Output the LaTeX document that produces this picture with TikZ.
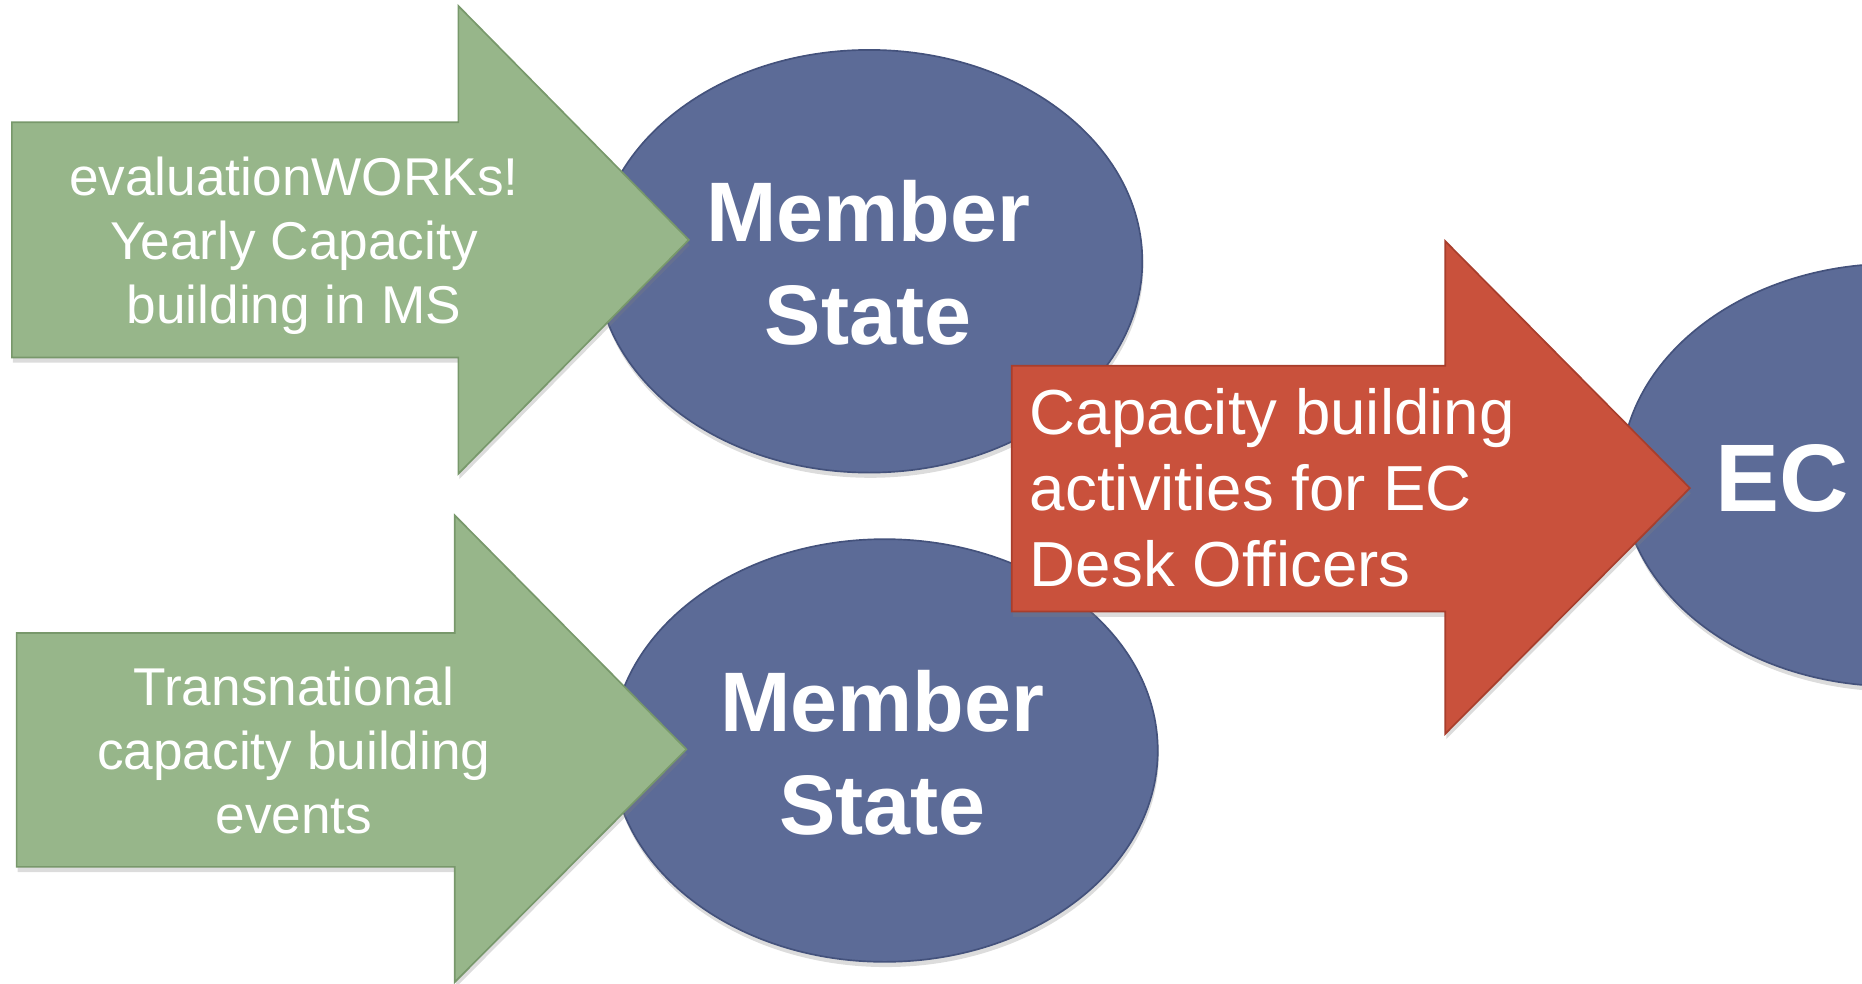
\documentclass[tikz,border=0pt]{standalone}
\usepackage{fontspec}
\setmainfont{Liberation Sans}
\usetikzlibrary{shapes.geometric,shadows}
\definecolor{grn}{RGB}{151,182,138}
\definecolor{grnedge}{RGB}{120,152,107}
\definecolor{blu}{RGB}{92,107,151}
\definecolor{bluedge}{RGB}{68,82,124}
\definecolor{rd}{RGB}{201,81,60}
\definecolor{rdedge}{RGB}{168,62,44}
\begin{document}
\begin{tikzpicture}[x=0.02cm,y=-0.02cm,
  shade/.style={drop shadow={opacity=0.28, shadow xshift=0.5pt, shadow yshift=-2.5pt}},
  bubble/.style={ellipse, fill=blu, draw=bluedge, line width=0.8pt,
    minimum width=9.2cm, minimum height=7.12cm, inner sep=0pt, shade},
  garrow/.style={fill=grn, draw=grnedge, line width=0.8pt, line join=miter, shade},
  rarrow/.style={fill=rd, draw=rdedge, line width=0.8pt, line join=miter, shade},
  gtxt/.style={anchor=base, text=white, inner sep=0pt, font=\fontsize{25.5}{30}\selectfont},
  rtxt/.style={anchor=base west, text=white, inner sep=0pt, font=\fontsize{30.5}{36}\selectfont},
  mtxt/.style={anchor=base, text=white, inner sep=0pt, font=\bfseries\fontsize{40.5}{48}\selectfont},
  ectxt/.style={anchor=base, text=white, inner sep=0pt, font=\bfseries\fontsize{46}{55}\selectfont},
]
\useasboundingbox (0,0) rectangle (1568,828.6);
\clip (0,0) rectangle (1568,828.6);

% ellipses
\node[bubble] (ms1) at (732,220) {};
\node[bubble] (ms2) at (745,632) {};
\node[bubble] (ec) at (1595,400) {};

% green arrows
\draw[garrow] (10,103) -- (386,103) -- (386,5) -- (580,202) -- (386,399) -- (386,301) -- (10,301) -- cycle;
\draw[garrow] (14,533) -- (383,533) -- (383,434) -- (578,631) -- (383,827) -- (383,730) -- (14,730) -- cycle;

% red arrow
\draw[rarrow] (852,308) -- (1217,308) -- (1217,203) -- (1423,411) -- (1217,618) -- (1217,515) -- (852,515) -- cycle;

% texts
\node[gtxt] (g1a) at (247.5,164.5) {evaluationWORKs!};
\node[gtxt] (g1b) at (247.5,218.5) {Yearly Capacity};
\node[gtxt] (g1c) at (247.5,272.5) {building in MS};

\node[gtxt] (g2a) at (247.5,594) {Transnational};
\node[gtxt] (g2b) at (247.5,648) {capacity building};
\node[gtxt] (g2c) at (247.5,702) {events};

\node[mtxt] (m1a) at (731,203.5) {Member};
\node[mtxt] (m1b) at (731,290.5) {State};
\node[mtxt] (m2a) at (743,616) {Member};
\node[mtxt] (m2b) at (743,703) {State};

\node[ectxt] (ect) at (1501,431) {EC};

\node[rtxt] (r1) at (867,365.5) {Capacity building};
\node[rtxt] (r2) at (867,429.5) {activities for EC};
\node[rtxt] (r3) at (867,493.5) {Desk Officers};
\end{tikzpicture}
\end{document}
